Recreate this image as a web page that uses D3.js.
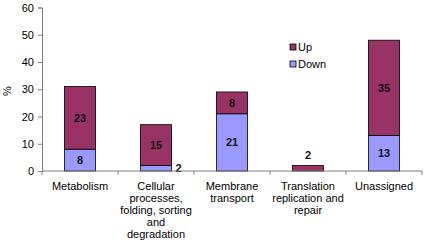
<!DOCTYPE html>
<html>
<head>
<meta charset="utf-8">
<script src="https://cdn.jsdelivr.net/npm/d3@7"></script>
<style>
  body { margin: 0; background: #fff; }
  text { font-family: "Liberation Sans", Arial, sans-serif; }
</style>
</head>
<body>
<svg id="chart" width="425" height="244"></svg>
<script>
// data
const categories = ["Metabolism", "Cellular\nprocesses,\nfolding, sorting\nand\ndegradation",
  "Membrane\ntransport", "Translation\nreplication and\nrepair", "Unassigned"];
const down = [8, 2, 21, 0, 13];
const up = [23, 15, 8, 2, 35];
const yTicks = [0, 10, 20, 30, 40, 50, 60];
const seriesNames = ["Up", "Down"];
const colors = { Up: "#993366", Down: "#9999ff" };

const svg = d3.select("#chart");

// scales
const x = d3.scaleBand()
  .domain(d3.range(categories.length))
  .range([42, 422])
  .paddingInner(0.59)
  .paddingOuter(0.295);
const y = d3.scaleLinear()
  .domain([0, 60])
  .range([171, 7.5]);

// y axis
const yAxis = svg.append("g")
  .attr("transform", "translate(42,0)")
  .call(d3.axisLeft(y).tickValues(yTicks).tickSize(4).tickPadding(4));
yAxis.select(".domain").attr("stroke", "#808080");
yAxis.selectAll(".tick line").attr("stroke", "#808080");
yAxis.selectAll("text").attr("font-size", 11).attr("fill", "#000");

svg.append("text")
  .attr("transform", "translate(11,91) rotate(-90)")
  .attr("text-anchor", "middle")
  .attr("font-size", 11)
  .text("%");

// stacked bars
const stacked = categories.map((c, i) => ({
  i,
  segs: [
    { name: "Down", v: down[i], y0: 0, y1: down[i] },
    { name: "Up", v: up[i], y0: down[i], y1: down[i] + up[i] }
  ]
}));

const bars = svg.append("g");
stacked.forEach(d => {
  d.segs.forEach((s, k) => {
    if (s.v <= 0) return;
    bars.append("rect")
      .attr("x", x(d.i))
      .attr("y", y(s.y1))
      .attr("width", x.bandwidth())
      .attr("height", y(s.y0) - y(s.y1))
      .attr("fill", colors[s.name])
      .attr("stroke", "#000")
      .attr("stroke-width", 0.8);

    const h = y(s.y0) - y(s.y1);
    let lx = x(d.i) + x.bandwidth() / 2;
    let ly = (y(s.y0) + y(s.y1)) / 2;
    let anchor = "middle";
    if (h < 12) {
      if (k === 0) { lx = x(d.i) + x.bandwidth() + 4; anchor = "start"; }
      else { ly = y(s.y1) - 10; }
    }
    bars.append("text")
      .attr("x", lx)
      .attr("y", ly)
      .attr("dy", "0.35em")
      .attr("text-anchor", anchor)
      .attr("font-size", 11)
      .attr("font-weight", "bold")
      .attr("fill", "#111")
      .text(s.v);
  });
});

// x axis
const xAxis = svg.append("g");
xAxis.append("line")
  .attr("x1", 42).attr("x2", 422)
  .attr("y1", y(0)).attr("y2", y(0))
  .attr("stroke", "#808080");
const bounds = d3.range(categories.length + 1).map(i => 42 + i * x.step());
xAxis.selectAll(".tk")
  .data(bounds).enter()
  .append("line")
  .attr("x1", d => d).attr("x2", d => d)
  .attr("y1", y(0)).attr("y2", y(0) + 4)
  .attr("stroke", "#808080");

xAxis.selectAll(".lbl")
  .data(categories).enter()
  .append("text")
  .attr("text-anchor", "middle")
  .attr("font-size", 11)
  .each(function(c, i) {
    const t = d3.select(this);
    c.split("\n").forEach((line, j) => {
      t.append("tspan")
        .attr("x", x(i) + x.bandwidth() / 2)
        .attr("y", 190 + j * 12)
        .text(line);
    });
  });

// legend
const legend = svg.append("g").attr("transform", "translate(292,47)");
seriesNames.forEach((n, i) => {
  legend.append("rect")
    .attr("x", -2).attr("y", i * 17 - 3)
    .attr("width", 6).attr("height", 6)
    .attr("fill", colors[n])
    .attr("stroke", "#000")
    .attr("stroke-width", 0.8);
  legend.append("text")
    .attr("x", 6).attr("y", i * 17)
    .attr("dy", "0.35em")
    .attr("font-size", 11)
    .text(n);
});
</script>
</body>
</html>
